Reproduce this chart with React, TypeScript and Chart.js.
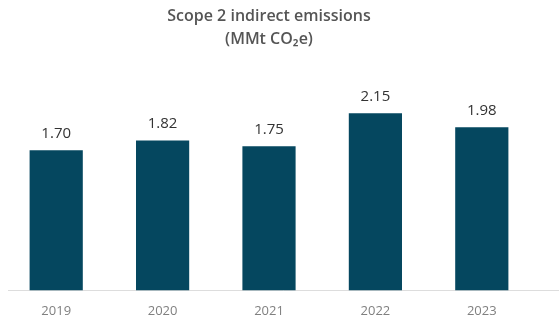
import React, { useEffect, useRef } from "react";
import { Chart, registerables } from "chart.js";

Chart.register(...registerables);

const years = ["2019", "2020", "2021", "2022", "2023"];
const emissions = [1.7, 1.82, 1.75, 2.15, 1.98];
const valueLabels = ["1.70", "1.82", "1.75", "2.15", "1.98"];
const titleLines = ["Scope 2 indirect emissions", "(MMt CO\u2082e)"];

const valueLabelPlugin = {
  id: "valueLabels",
  afterDatasetsDraw(chart: any) {
    const { ctx } = chart;
    const meta = chart.getDatasetMeta(0);
    ctx.save();
    ctx.fillStyle = "#333333";
    ctx.font = "500 15px 'Open Sans'";
    ctx.textAlign = "center";
    ctx.textBaseline = "bottom";
    meta.data.forEach((bar: any, i: number) => {
      ctx.fillText(valueLabels[i], bar.x, bar.y - 9);
    });
    ctx.restore();
  },
};

const baselinePlugin = {
  id: "baseline",
  beforeDatasetsDraw(chart: any) {
    const { ctx, chartArea, scales } = chart;
    const y = Math.round(scales.y.getPixelForValue(0)) + 0.5;
    ctx.save();
    ctx.strokeStyle = "#dddddd";
    ctx.lineWidth = 1;
    ctx.beginPath();
    ctx.moveTo(chartArea.left + 5, y);
    ctx.lineTo(chart.width, y);
    ctx.stroke();
    ctx.restore();
  },
};

export default function App() {
  const ref = useRef<HTMLCanvasElement>(null);
  useEffect(() => {
    const chart = new Chart(ref.current!, {
      type: "bar",
      data: {
        labels: years,
        datasets: [
          {
            data: emissions,
            backgroundColor: "#05475f",
            barPercentage: 0.5,
            categoryPercentage: 1,
          },
        ],
      },
      options: {
        animation: false,
        responsive: true,
        maintainAspectRatio: false,
        layout: { padding: { left: 3, right: 24, top: 0, bottom: -10 } },
        plugins: {
          legend: { display: false },
          tooltip: { enabled: false },
          title: {
            display: true,
            text: titleLines,
            color: "#555555",
            font: { family: "'Open Sans'", size: 16, weight: "600", lineHeight: 1.45 },
            padding: { top: 5, bottom: 33 },
          },
        },
        scales: {
          x: {
            grid: { display: false, drawTicks: false },
            border: { display: false },
            ticks: {
              color: "#808080",
              font: { family: "'Open Sans'", size: 13 },
              padding: 13,
            },
          },
          y: {
            display: false,
            min: 0,
            max: 2.5,
          },
        },
      },
      plugins: [valueLabelPlugin, baselinePlugin],
    });
    return () => chart.destroy();
  }, []);
  return (
    <div style={{ position: "fixed", left: 0, top: 0, width: 559, height: 322, background: "#ffffff" }}>
      <canvas ref={ref} />
    </div>
  );
}
